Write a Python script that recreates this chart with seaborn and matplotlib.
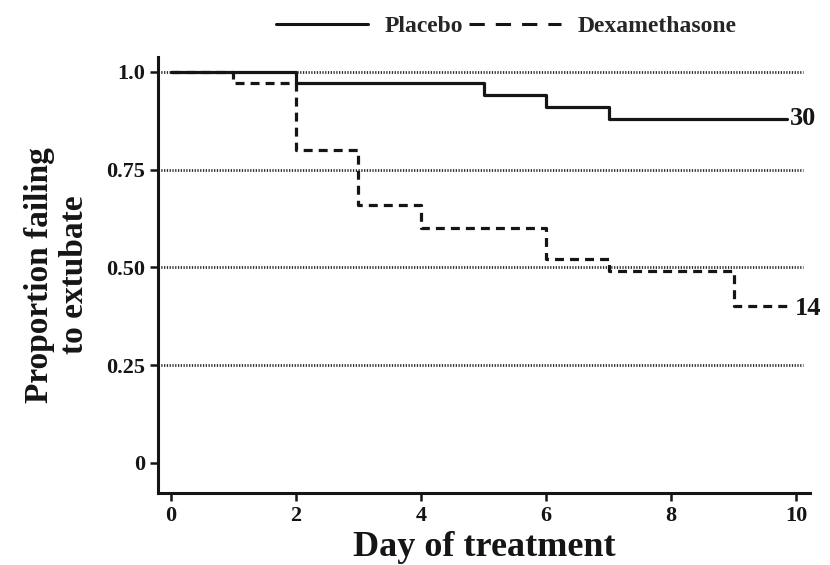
import matplotlib
matplotlib.use("Agg")
import matplotlib.pyplot as plt
from matplotlib.lines import Line2D
import seaborn as sns
import pandas as pd

# ---- data ----
placebo_days = [0, 2, 5, 6, 7, 9.85]
placebo_prop = [1.00, 0.97, 0.94, 0.91, 0.88, 0.88]
dexa_days = [0, 1, 2, 3, 4, 6, 7, 9, 9.85]
dexa_prop = [1.00, 0.97, 0.80, 0.66, 0.60, 0.52, 0.49, 0.40, 0.40]
group_names = ["Placebo", "Dexamethasone"]
end_labels = ["30", "14"]
y_ticks = [0, 0.25, 0.50, 0.75, 1.0]
y_tick_labels = ["0", "0.25", "0.50", "0.75", "1.0"]
x_ticks = [0, 2, 4, 6, 8, 10]
x_tick_labels = ["0", "2", "4", "6", "8", "10"]

df = pd.concat([
    pd.DataFrame({"day": placebo_days, "prop": placebo_prop, "group": group_names[0]}),
    pd.DataFrame({"day": dexa_days, "prop": dexa_prop, "group": group_names[1]}),
])

sns.set_theme(style="white")
plt.rcParams["font.family"] = ["Liberation Serif", "DejaVu Serif"]
plt.rcParams["font.weight"] = "bold"

INK = "#151515"

fig = plt.figure(figsize=(8.3, 5.65), dpi=100)
ax = fig.add_axes([0.190, 0.1274, 0.786, 0.772])

# dotted reference lines
for yv in [0.25, 0.50, 0.75, 1.0]:
    ax.hlines(yv, -0.2, 10.1, colors="#2a2a2a", linewidth=2.0,
              linestyles=(0, (0.45, 0.55)), zorder=1)

sns.lineplot(data=df[df.group == group_names[0]], x="day", y="prop",
             drawstyle="steps-post", color=INK, linewidth=2.3,
             estimator=None, ax=ax, zorder=3)
sns.lineplot(data=df[df.group == group_names[1]], x="day", y="prop",
             drawstyle="steps-post", color=INK, linewidth=2.3,
             estimator=None, ax=ax, zorder=3, dashes=False,
             linestyle=(0, (2.8, 1.9)))

ax.text(9.9, placebo_prop[-1], end_labels[0], fontsize=19, fontweight="bold",
        va="center", ha="left", color=INK)
ax.text(9.98, dexa_prop[-1] - 0.005, end_labels[1], fontsize=19,
        fontweight="bold", va="center", ha="left", color=INK)

ax.set_xlim(-0.21, 10.22)
ax.set_ylim(-0.077, 1.038)
ax.set_xticks(x_ticks)
ax.set_xticklabels(x_tick_labels, fontsize=16, fontweight="bold")
ax.set_yticks(y_ticks)
ax.set_yticklabels(y_tick_labels, fontsize=16, fontweight="bold")
ax.tick_params(axis="both", direction="out", length=6, width=1.8,
               color=INK, labelcolor=INK, pad=3,
               bottom=True, left=True)

for side in ["top", "right"]:
    ax.spines[side].set_visible(False)
for side in ["left", "bottom"]:
    ax.spines[side].set_linewidth(2.2)
    ax.spines[side].set_color(INK)

ax.set_xlabel("Day of treatment", fontsize=26, fontweight="bold",
              color=INK, labelpad=4)
ax.set_ylabel("Proportion failing\nto extubate", fontsize=24,
              fontweight="bold", color=INK, labelpad=12,
              linespacing=1.15)
ax.grid(False)

handles = [
    Line2D([], [], color=INK, linewidth=2.2),
    Line2D([], [], color=INK, linewidth=2.2, linestyle=(0, (5, 3.6))),
]
fig.legend(handles, group_names, loc="center", bbox_to_anchor=(0.61, 0.953),
           ncol=2, frameon=False, handlelength=3.9,
           handletextpad=0.7, columnspacing=0.25,
           prop={"weight": "bold", "size": 17})

fig.savefig("out.png", dpi=100, facecolor="white")
